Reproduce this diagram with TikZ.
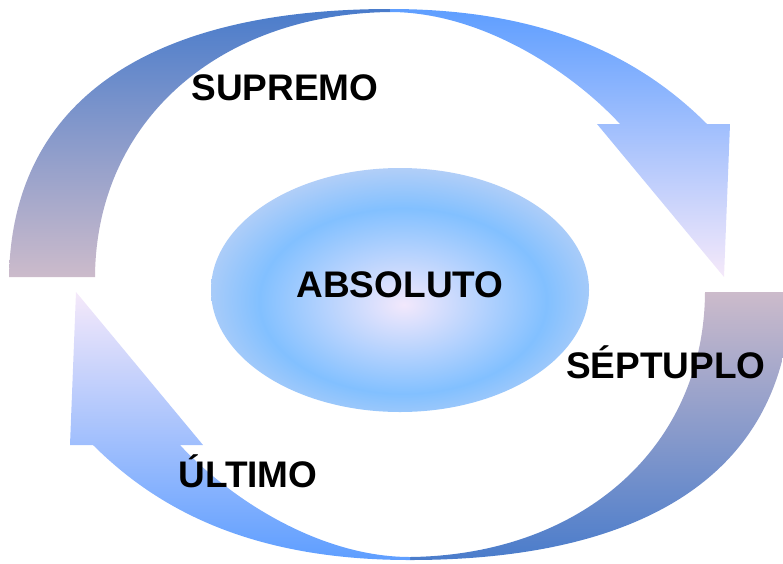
\documentclass[tikz,border=0pt]{standalone}
\usepackage{fontspec}
\setmainfont{Liberation Sans}
\usepackage{xcolor}
\usepackage{tikz}
\usetikzlibrary{shapes.geometric, positioning}
\definecolor{bandDarkTop}{HTML}{4A7CCB}
\definecolor{bandDarkMid}{HTML}{7C9FC6}
\definecolor{bandDarkLow}{HTML}{CCBBCB}
\definecolor{bandLightTop}{HTML}{5E9EFF}
\definecolor{bandLightMid}{HTML}{8EC1FA}
\definecolor{bandLightLow}{HTML}{F5E9FA}
\definecolor{coreCenter}{HTML}{F2E8FC}
\definecolor{coreBlue}{HTML}{82C0FF}
\definecolor{coreEdge}{HTML}{E2DDF0}
\pgfdeclareradialshading{coreglow}{\pgfpoint{0.5bp}{-3bp}}{color(0bp)=(coreCenter); color(19bp)=(coreBlue); color(35bp)=(coreEdge); color(75bp)=(coreEdge)}
\tikzset{
    darkband/.style={top color=bandDarkTop, middle color=bandDarkMid, bottom color=bandDarkLow, draw=none},
    darkbandlow/.style={top color=bandDarkLow, middle color=bandDarkMid, bottom color=bandDarkTop, draw=none},
    lightband/.style={top color=bandLightTop, middle color=bandLightMid, bottom color=bandLightLow, draw=none},
    lightbandlow/.style={top color=bandLightLow, middle color=bandLightMid, bottom color=bandLightTop, draw=none},
    core/.style={ellipse, minimum width=378pt, minimum height=244pt, inner sep=0pt, shading=coreglow},
    ringtext/.style={anchor=base, inner sep=0pt, font=\fontsize{37}{40}\selectfont\bfseries}
}
% the two curved arrows
\newcommand{\toparrow}{(9,277) .. controls (12,100) and (150,9) .. (390,9) .. controls (540,9) and (637,54) .. (707,124) -- (730,124) -- (724,277) -- (597,124) -- (620,124) .. controls (570,70) and (480,12) .. (390,12) .. controls (220,14) and (96,120) .. (95,277) -- cycle}
\newcommand{\lowarrow}{(791,292) .. controls (788,469) and (650,560) .. (410,560) .. controls (260,560) and (163,515) .. (93,445) -- (70,445) -- (76,292) -- (203,445) -- (180,445) .. controls (230,499) and (320,557) .. (410,557) .. controls (580,555) and (704,449) .. (705,292) -- cycle}

\begin{document}
\begin{tikzpicture}[x=1pt, y=-1pt]
    \useasboundingbox (0,0) rectangle (783,563);

    % Arrows
    \begin{scope}
        \clip (0,0) rectangle (390,290);
        \shade[darkband] \toparrow;
    \end{scope}
    \begin{scope}
        \clip (390,0) rectangle (783,290);
        \shade[lightband] \toparrow;
    \end{scope}
    \begin{scope}
        \clip (410,280) rectangle (783,563);
        \shade[darkbandlow] \lowarrow;
    \end{scope}
    \begin{scope}
        \clip (0,280) rectangle (410,563);
        \shade[lightbandlow] \lowarrow;
    \end{scope}

    % Nodes
    \node[core] (core) at (400,290) {};
    \node[ringtext] (absoluto) at (400,297) {ABSOLUTO};
    \node[ringtext] (supremo) at (285,100) {SUPREMO};
    \node[ringtext] (septuplo) at (666,378) {SÉPTUPLO};
    \node[ringtext] (ultimo) at (248,487) {ÚLTIMO};
\end{tikzpicture}
\end{document}
